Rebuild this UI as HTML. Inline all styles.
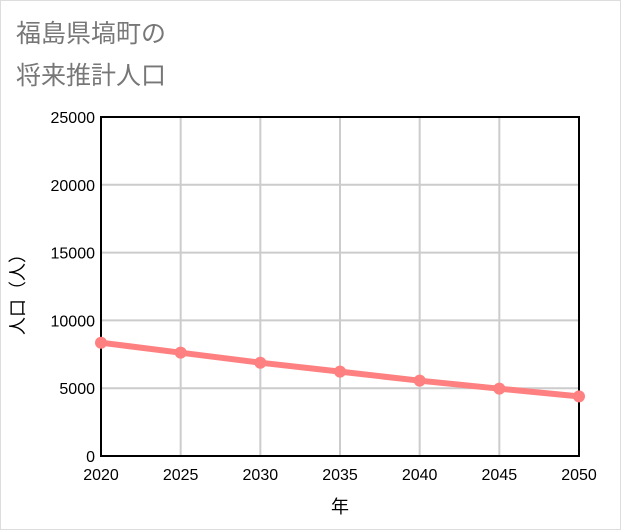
<!DOCTYPE html>
<html><head><meta charset="utf-8"><style>
body{margin:0;width:621px;height:530px;background:#fff;font-family:"Liberation Sans","Noto Sans CJK JP",sans-serif;overflow:hidden}
#frame{position:absolute;left:0;top:0;width:619px;height:528px;border:1px solid #ddd}
.title{position:absolute;left:16px;font-size:25px;color:#777}
</style></head><body>
<div id="frame"></div>
<div class="title" style="top:14px">福島県塙町の</div>
<div class="title" style="top:56px">将来推計人口</div>
<svg id="chart" width="621" height="530" style="position:absolute;left:0;top:0"></svg>
<script>
const years=[2020,2025,2030,2035,2040,2045,2050];
const population=[8355,7620,6880,6220,5555,4965,4400];
const yTicks=[0,5000,10000,15000,20000,25000];
const X0=101,X1=579,Y0=456,Y1=117;
const xs=v=>X0+(v-2020)/30*(X1-X0);
const ys=v=>Y0-v/25000*(Y0-Y1);
const svg=document.getElementById('chart');
const NS='http://www.w3.org/2000/svg';
function mk(t,a){const e=document.createElementNS(NS,t);for(const k in a)e.setAttribute(k,a[k]);svg.appendChild(e);return e;}
yTicks.forEach(v=>{
const l=mk('line',{x1:X0,x2:X1,y1:ys(v),y2:ys(v),stroke:'#ccc','stroke-width':2});


const t=mk('text',{x:95,y:ys(v)+6,'text-anchor':'end','font-size':16,fill:'#000','font-family':'Liberation Sans, sans-serif'});
t.textContent=v;


});
years.forEach(y=>{
const l=mk('line',{x1:xs(y),x2:xs(y),y1:Y1,y2:Y0,stroke:'#ccc','stroke-width':2});


const t=mk('text',{x:xs(y),y:480,'text-anchor':'middle','font-size':16,fill:'#000','font-family':'Liberation Sans, sans-serif'});
t.textContent=y;


});
const r=mk('rect',{x:X0,y:Y1,width:X1-X0,height:Y0-Y1,fill:'none',stroke:'#000','stroke-width':2});


const pl=mk('polyline',{points:years.map((y,i)=>xs(y)+','+ys(population[i])).join(' '),fill:'none',stroke:'#ff8080','stroke-width':6});


years.forEach((y,i)=>{
const c=mk('circle',{cx:xs(y),cy:ys(population[i]),r:6,fill:'#ff8080'});


});
const xt=mk('text',{x:340,y:513,'text-anchor':'middle','font-size':18,fill:'#000','font-family':'Noto Sans CJK JP, sans-serif'});
xt.textContent='年';


const yt=mk('text',{x:0,y:0,'text-anchor':'middle','font-size':18,fill:'#000','font-family':'Noto Sans CJK JP, sans-serif',transform:'translate(24,290) rotate(-90)'});
yt.textContent='人口（人）';


</script>
</body></html>
